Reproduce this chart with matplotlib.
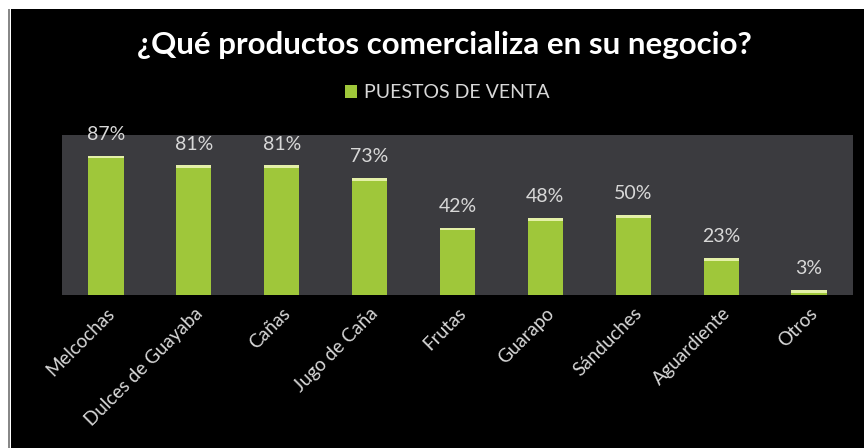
import matplotlib.pyplot as plt
from matplotlib.patches import Patch

productos = ['Melcochas', 'Dulces de Guayaba', 'Cañas', 'Jugo de Caña', 'Frutas',
             'Guarapo', 'Sánduches', 'Aguardiente', 'Otros']
porcentajes = [87, 81, 81, 73, 42, 48, 50, 23, 3]
serie = 'PUESTOS DE VENTA'

VERDE = '#9fc73a'
GRIS_TEXTO = '#d8d8d8'

fig = plt.figure(figsize=(8.64, 4.48), dpi=100, facecolor='white')
# fondo negro del gráfico (con el margen blanco arriba y a la izquierda)
fig.patches.append(plt.Rectangle((11 / 864, 0), 1, 1 - 9 / 448, transform=fig.transFigure,
                                 facecolor='black', edgecolor='none', zorder=-2))
fig.patches.append(plt.Rectangle((8 / 864, 0), 2 / 864, 1 - 9 / 448, transform=fig.transFigure,
                                 facecolor='#888888', edgecolor='none', zorder=-2))

ax = fig.add_axes([62 / 864, 1 - 295 / 448, (853 - 62) / 864, (295 - 135) / 448])
ax.set_zorder(1)
ax.set_facecolor('#3b3b3f')

x = range(len(productos))
barras = ax.bar(x, porcentajes, width=0.4, color=VERDE, edgecolor='none', zorder=2)
# brillo en la parte superior de cada barra
ax.bar(x, [min(v, 1.6) for v in porcentajes], bottom=[v - min(v, 1.6) for v in porcentajes],
       width=0.4, color='#e4f0a8', edgecolor='none', zorder=3)

for xi, v in zip(x, porcentajes):
    ax.text(xi, v + 8, f'{v}%', ha='center', va='bottom', color=GRIS_TEXTO,
            fontsize=14, family='Lato', zorder=4, clip_on=False)

ax.set_xlim(-0.5, len(productos) - 0.5)
ax.set_ylim(0, 100)
ax.set_yticks([])
ax.set_xticks(list(x))
ax.set_xticklabels(productos, rotation=45, ha='right', rotation_mode='anchor',
                   color=GRIS_TEXTO, fontsize=13.5, family='Lato')
ax.tick_params(axis='x', length=0, pad=7)
for s in ax.spines.values():
    s.set_visible(False)

fig.text(0.514, 1 - 45 / 448, '¿Qué productos comercializa en su negocio?',
         ha='center', va='center', color='white', fontsize=22.5, family='Lato',
         fontweight='bold')

fig.legend(handles=[Patch(facecolor=VERDE, edgecolor='none', label=serie)],
           loc='center', bbox_to_anchor=(0.518, 1 - 93 / 448), frameon=False,
           handlelength=0.6, handleheight=0.6, handletextpad=0.4,
           labelcolor=GRIS_TEXTO, prop={'family': 'Lato', 'size': 14})

fig.savefig('out.png', dpi=100, facecolor='white')
